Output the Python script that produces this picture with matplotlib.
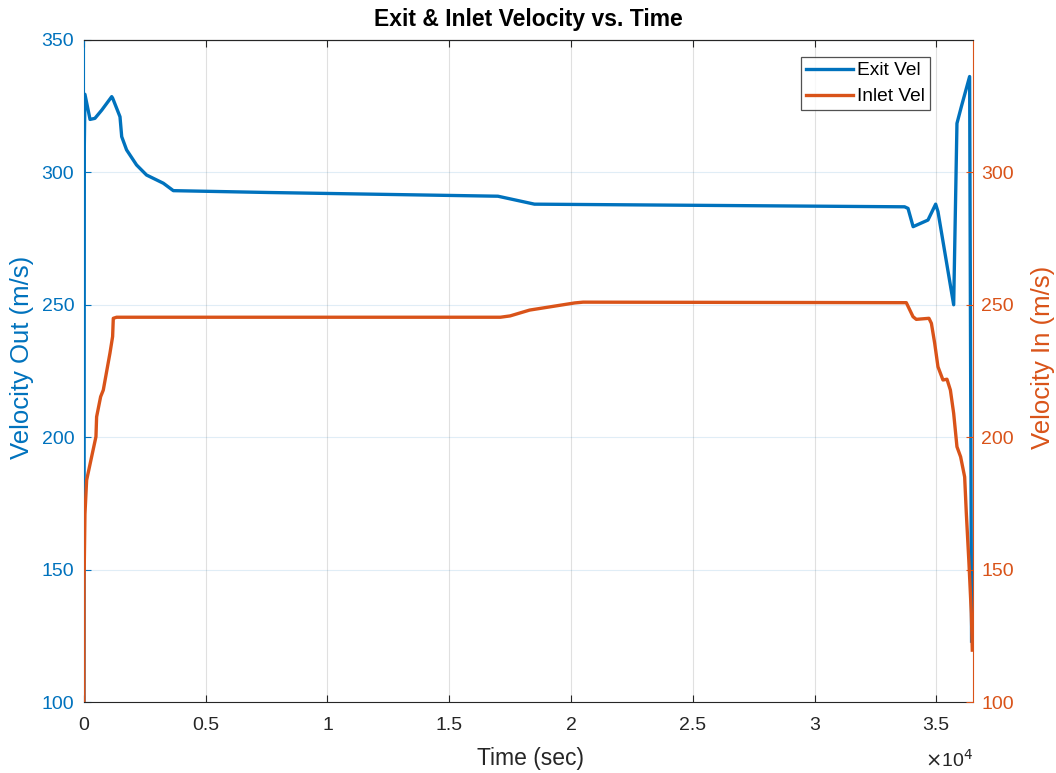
import matplotlib.pyplot as plt
from matplotlib.ticker import FuncFormatter

# exit velocity (blue)
t_exit = [0, 15, 40, 250, 450, 730, 1140, 1180, 1480, 1550, 1750, 2160, 2570,
          3260, 3670, 7600, 17000, 18500, 33700, 33840, 34050, 34660, 34975,
          35070, 35715, 35850, 36030, 36370, 36450]
v_exit = [100, 310, 329.5, 320, 320.4, 323.5, 328.6, 328, 321, 313.5, 308.5,
          302.8, 299, 295.9, 293.1, 292.4, 291, 288, 287, 286.4, 279.5, 282,
          288, 285.2, 250, 318.5, 324.8, 336.2, 123]

# inlet velocity (orange)
t_inlet = [0, 5, 41, 110, 315, 493, 520, 685, 794, 1067, 1177, 1205, 1341,
           17100, 17500, 18300, 20150, 20500, 33770, 34046, 34180, 34700,
           34800, 34935, 35070, 35275, 35440, 35580, 35715, 35850, 36000,
           36166, 36235, 36343, 36440, 36480]
v_inlet = [100, 146, 171, 183.8, 192.6, 200.2, 207.7, 215.3, 217.8, 231.7, 238,
           244.9, 245.3, 245.3, 245.8, 248, 250.7, 251, 250.8, 245.5, 244.5,
           244.9, 243, 235.5, 226.6, 221.6, 221.9, 217.8, 209, 196.4, 192.6,
           185, 171.2, 152.4, 133.5, 119.6]

xticks = [0, 5000, 10000, 15000, 20000, 25000, 30000, 35000]
yticks_left = [100, 150, 200, 250, 300, 350]
yticks_right = [100, 150, 200, 250, 300]

blue = '#0072BD'
orange = '#D95319'
dark = '#262626'

plt.rcParams['font.family'] = ['Liberation Sans', 'DejaVu Sans']

fig = plt.figure(figsize=(10.56, 7.73), dpi=100)
ax = fig.add_axes([0.0795, 0.0918, 0.8417, 0.8565])
ax2 = ax.twinx()

l1, = ax.plot(t_exit, v_exit, color=blue, lw=2.4, label='Exit Vel')
l2, = ax2.plot(t_inlet, v_inlet, color=orange, lw=2.4, label='Inlet Vel')

ax.set_xlim(0, 36500)
ax.set_ylim(100, 350)
ax2.set_ylim(100, 350)
ax.set_xticks(xticks)
ax.set_yticks(yticks_left)
ax2.set_yticks(yticks_right)
ax.xaxis.set_major_formatter(FuncFormatter(lambda v, p: '%g' % (v / 1e4)))

# grid: light gray verticals, light blue horizontals
ax.grid(axis='x', color='#e0e0e0', lw=0.8)
ax.grid(axis='y', color=blue, alpha=0.12, lw=0.8)
ax.set_axisbelow(True)

ax.tick_params(axis='x', direction='in', length=5, colors=dark, labelsize=14,
               top=True, pad=11)
ax.tick_params(axis='y', direction='in', length=5, colors=blue, labelsize=14,
               pad=7)
ax2.tick_params(axis='y', direction='in', length=5, colors=orange,
                labelsize=14, pad=6)

for s in ['bottom', 'top']:
    ax.spines[s].set_color(dark)
ax.spines['left'].set_color(blue)
ax2.spines['left'].set_visible(False)
ax2.spines['right'].set_color(orange)
ax2.spines['top'].set_color(dark)
ax2.spines['bottom'].set_visible(False)
ax.spines['right'].set_visible(False)

ax.set_xlabel('Time (sec)', fontsize=16.5, color=dark)
ax.xaxis.label.set_va('center')
ax.xaxis.set_label_coords(0.502, -0.086)
ax.set_ylabel('Velocity Out (m/s)', fontsize=18.5, color=blue)
ax.yaxis.label.set_va('center')
ax.yaxis.set_label_coords(-0.070, 0.52)
ax2.set_ylabel('Velocity In (m/s)', fontsize=18.5, color=orange)
ax2.yaxis.label.set_va('center')
ax2.yaxis.set_label_coords(1.079, 0.52)
ax.set_title('Exit & Inlet Velocity vs. Time', fontsize=16.5,
             fontweight='bold', color='black', pad=10)

fig.text(0.921, 0.008, r'$\times$10$^4$', fontsize=14, color=dark, ha='right')

leg = ax2.legend(handles=[l1, l2], loc='upper right', fontsize=13.8,
                 frameon=True, fancybox=False, edgecolor=dark,
                 bbox_to_anchor=(0.952, 0.974), handlelength=2.45,
                 borderpad=0.25, labelspacing=0.45, handletextpad=0.25,
                 borderaxespad=0)
leg.get_frame().set_linewidth(0.9)

fig.savefig('out.png', dpi=100)
